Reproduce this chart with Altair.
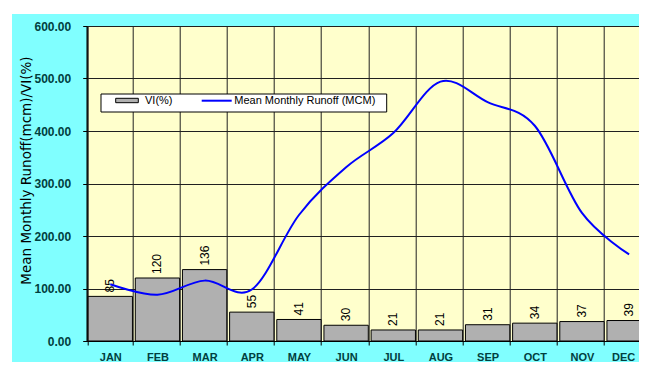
import altair as alt
import pandas as pd

# ---- data ----
months = ["JAN", "FEB", "MAR", "APR", "MAY", "JUN", "JUL", "AUG", "SEP", "OCT", "NOV", "DEC"]
vi_pct = [85, 120, 136, 55, 41, 30, 21, 21, 31, 34, 37, 39]
runoff_mcm = [108, 88, 115, 98, 240, 331, 396, 494, 455, 410, 244, 165]
y_ticks = [0, 100, 200, 300, 400, 500, 600]
legend_labels = ["VI(%)", "Mean Monthly Runoff (MCM)"]
y_title = "Mean Monthly Runoff(mcm)/VI(%)"

df = pd.DataFrame({"month": months, "vi": vi_pct, "runoff": runoff_mcm})

TEAL = "#004040"
BAR_FILL = "#b0b0b0"

x_enc = alt.X(
    "month:N",
    sort=months,
    scale=alt.Scale(paddingInner=0.06, paddingOuter=0.03),
    axis=alt.Axis(
        title=None, labelAngle=0, labelFont="Liberation Sans", labelFontWeight="bold",
        labelFontSize=11, labelColor=TEAL, labelPadding=6, tickBand="extent",
        tickSize=4, tickColor="#000", domainColor="#000", grid=True,
        gridColor="#202020", gridWidth=1,
        labelOffset={"condition": {"test": "datum.value === 'DEC'", "value": -6}, "value": 0},
    ),
)

y_axis = alt.Axis(
    values=y_ticks, format=".2f", title=y_title,
    labelFont="Liberation Sans", labelFontWeight="bold", labelFontSize=12,
    labelColor=TEAL, labelPadding=12, tickSize=4, tickColor="#000",
    domainColor="#000", grid=True, gridColor="#202020", gridWidth=1,
    titleFont="DejaVu Sans", titleFontSize=13.5, titleFontWeight="normal",
    titleColor="#000", titleAngle=270, titleX=-60, titleY=144,
    titleAlign="center", titleBaseline="middle",
)
y_scale = alt.Scale(domain=[0, 600], nice=False)

base = alt.Chart(df)

bars = base.mark_bar(fill=BAR_FILL, stroke="#000", strokeWidth=1).encode(
    x=x_enc, y=alt.Y("vi:Q", scale=y_scale, axis=y_axis)
)

bar_labels = base.mark_text(
    angle=270, align="left", baseline="middle", dx=4,
    font="Liberation Sans", fontSize=12, color="#000"
).encode(x=x_enc, y=alt.Y("vi:Q", scale=y_scale, axis=y_axis), text="vi:Q")

line = base.mark_line(color="#0000ff", strokeWidth=2, interpolate="cardinal").encode(
    x=x_enc, y=alt.Y("runoff:Q", scale=y_scale, axis=y_axis)
)

one = alt.Data(values=[{"k": 1}])

# white page strips outside the cyan frame
white_left = alt.Chart(one).mark_rect(fill="white").encode(
    x=alt.value(-78.7), x2=alt.value(-74.7), y=alt.value(-18), y2=alt.value(360)
)
white_top = alt.Chart(one).mark_rect(fill="white").encode(
    x=alt.value(-78.7), x2=alt.value(600), y=alt.value(-18), y2=alt.value(-12)
)

# legend
leg_box = alt.Chart(one).mark_rect(fill="white", stroke="#000", strokeWidth=1).encode(
    x=alt.value(14.3), x2=alt.value(300), y=alt.value(68), y2=alt.value(86)
)
leg_swatch = alt.Chart(one).mark_rect(fill=BAR_FILL, stroke="#000", strokeWidth=1).encode(
    x=alt.value(29), x2=alt.value(51.6), y=alt.value(72.3), y2=alt.value(76.7)
)
leg_line = alt.Chart(one).mark_rule(color="#0000ff", strokeWidth=2).encode(
    x=alt.value(115), x2=alt.value(145), y=alt.value(74.7)
)
leg_t1 = alt.Chart(one).mark_text(
    align="left", baseline="middle", font="Liberation Sans", fontSize=11, color="#000",
    text=legend_labels[0]
).encode(x=alt.value(58.3), y=alt.value(74.5))
leg_t2 = alt.Chart(one).mark_text(
    align="left", baseline="middle", font="Liberation Sans", fontSize=11, color="#000",
    text=legend_labels[1]
).encode(x=alt.value(147.6), y=alt.value(74.5))

chart = alt.layer(
    bars, bar_labels, line, white_left, white_top,
    leg_box, leg_swatch, leg_line, leg_t1, leg_t2
).properties(
    width=566, height=315,
    padding={"left": 78.7, "top": 18, "right": -13.7, "bottom": 21},
    autosize=alt.AutoSizeParams(type="none"),
).configure(background="#80ffff").configure_view(
    fill="#ffffcc", stroke="#000", strokeWidth=1
)

chart.save("out.html", embed_options={"renderer": "svg", "actions": False})
